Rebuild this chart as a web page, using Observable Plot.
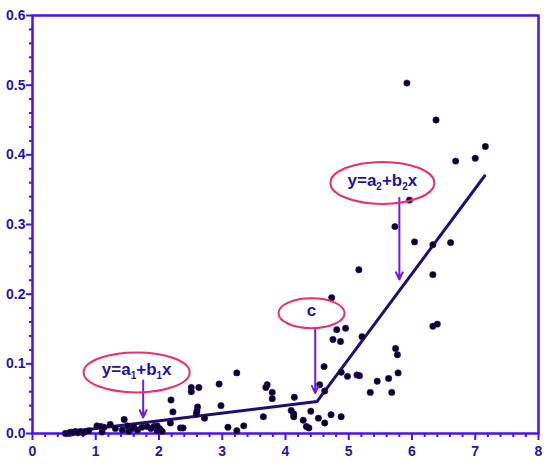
<!DOCTYPE html>
<html>
<head>
<meta charset="utf-8">
<script src="https://cdn.jsdelivr.net/npm/d3@7"></script>
<script src="https://cdn.jsdelivr.net/npm/@observablehq/plot@0.6"></script>
<style>
  html, body { margin: 0; padding: 0; background: #fff; }
</style>
</head>
<body>
<div id="chart"></div>
<script>
// Scatter observations (x, y)
const pointX = [
  0.52,0.56,0.60,0.64,0.68,0.72,0.76,0.80,0.84,0.89,1.02,1.08,1.10,1.13,1.23,1.31,1.42,1.45,1.50,1.52,
  1.58,1.60,1.66,1.73,1.81,1.87,1.92,1.97,1.97,2.01,2.05,
  2.18,2.19,2.22,2.34,2.38,2.51,2.51,2.63,2.61,2.60,2.59,2.72,2.95,2.98,3.09,3.23,3.23,3.34,3.65,
  3.71,3.69,3.79,3.79,
  4.09,4.13,4.13,4.14,4.28,4.33,4.37,4.40,4.52,4.54,4.61,4.62,4.62,4.72,4.73,4.75,4.81,4.87,4.88,4.88,
  4.95,4.98,5.13,5.17,5.16,5.21,5.34,5.45,5.63,5.68,5.73,5.74,5.77,5.78,5.92,5.96,6.04,6.33,6.33,6.33,
  6.38,6.40,6.61,6.69,7.00,7.16
];
const pointY = [
  0.000,0.000,0.002,0.001,0.003,0.001,0.003,0.001,0.003,0.004,0.011,0.010,0.002,0.009,0.013,0.007,0.005,0.020,0.011,0.003,
  0.007,0.010,0.005,0.009,0.010,0.007,0.010,0.004,0.011,0.007,0.003,
  0.015,0.048,0.031,0.008,0.008,0.066,0.060,0.066,0.038,0.032,0.028,0.022,0.071,0.040,0.009,0.087,0.004,0.011,0.024,
  0.070,0.066,0.059,0.050,
  0.033,0.028,0.024,0.052,0.019,0.010,0.008,0.032,0.022,0.070,0.096,0.061,0.015,0.027,0.195,0.135,0.149,0.132,0.088,0.024,
  0.151,0.082,0.084,0.083,0.235,0.139,0.059,0.075,0.079,0.059,0.297,0.122,0.113,0.087,0.503,0.335,0.275,0.271,0.228,0.154,
  0.450,0.157,0.274,0.391,0.395,0.412
];

// Piecewise (segmented) regression line: start, breakpoint c, end
const fitX = [0.55, 4.50, 7.15];
const fitY = [0.002, 0.046, 0.370];

// Annotations
const annLabel = ["y=a|1|+b|1|x", "c", "y=a|2|+b|2|x"];
const annX = [1.655, 4.42, 5.54];
const annY = [0.087, 0.172, 0.359];
const arrowX = [1.75, 4.47, 5.80];
const arrowY1 = [0.076, 0.150, 0.338];
const arrowY2 = [0.023, 0.058, 0.221];

// Ticks
const xMajor = [0,1,2,3,4,5,6,7,8];
const xMinor = d3.range(0, 40).map(i => i / 5).filter(v => Math.abs(v - Math.round(v)) > 1e-9);
const yMajor = [0,0.1,0.2,0.3,0.4,0.5,0.6];
const yMinor = d3.range(0, 30).map(i => i / 50).filter(v => Math.abs(v * 10 - Math.round(v * 10)) > 1e-9);

const points = pointX.map((x, i) => ({x, y: pointY[i]}));
const fit = fitX.map((x, i) => ({x, y: fitY[i]}));
const anns = annLabel.map((label, i) => ({label, x: annX[i], y: annY[i]}));
const arrows = arrowX.map((x, i) => ({x, y1: arrowY1[i], y2: arrowY2[i]}));

const axisColor = "#4a12ee";
const labelColor = "#2a12a8";
const ellipseColor = "#e8306f";
const textColor = "#1c14a0";
const arrowColor = "#6c1de0";
const ellipseSize = [[53, 20], [33, 15], [52, 21]];

function annotationMark(index, scales) {
  const sx = scales.x, sy = scales.y;
  const g = d3.create("svg:g");
  anns.forEach((d, i) => {
    const cx = sx(d.x), cy = sy(d.y);
    g.append("ellipse")
      .attr("cx", cx).attr("cy", cy)
      .attr("rx", ellipseSize[i][0]).attr("ry", ellipseSize[i][1])
      .attr("fill", "none").attr("stroke", ellipseColor).attr("stroke-width", 2);
    const t = g.append("text")
      .attr("x", cx).attr("y", cy - 1)
      .attr("text-anchor", "middle").attr("dominant-baseline", "middle")
      .attr("fill", textColor).attr("font-family", "Liberation Sans, Arial, sans-serif")
      .attr("font-weight", "bold").attr("font-size", 17);
    d.label.split("|").forEach((part, k) => {
      const sub = k % 2 === 1;
      const ts = t.append("tspan").text(part);
      if (sub) ts.attr("font-size", 10).attr("dy", 5);
      else if (k > 0) ts.attr("dy", -5);
    });
  });
  return g.node();
}

const chart = Plot.plot({
  width: 550,
  height: 471,
  marginLeft: 32,
  marginRight: 12,
  marginTop: 15,
  marginBottom: 38,
  style: {fontFamily: "Liberation Sans, Arial, sans-serif", fontSize: "14px", fontWeight: "bold", background: "#fff"},
  x: {domain: [0, 8]},
  y: {domain: [0, 0.6]},
  marks: [
    Plot.frame({stroke: axisColor, strokeWidth: 2.5}),
    Plot.axisX({ticks: xMinor, tickSize: 4, tickFormat: () => "", stroke: axisColor, strokeWidth: 2, label: null}),
    Plot.axisX({ticks: xMajor, tickSize: 7, tickPadding: 6, tickFormat: d => String(d), stroke: axisColor, strokeWidth: 2, fill: labelColor, label: null}),
    Plot.axisY({ticks: yMinor, tickSize: 3, tickFormat: () => "", stroke: axisColor, strokeWidth: 2, label: null}),
    Plot.axisY({ticks: yMajor, tickSize: 6, tickPadding: 1, tickFormat: d => d.toFixed(1), stroke: axisColor, strokeWidth: 2, fill: labelColor, label: null}),
    Plot.line(fit, {x: "x", y: "y", stroke: "#1e0f70", strokeWidth: 3}),
    Plot.dot(points, {x: "x", y: "y", r: 3.2, fill: "#06001c", stroke: "#3a10a0", strokeWidth: 0.6}),
    Plot.arrow(arrows, {x: "x", y1: "y1", y2: "y2", stroke: arrowColor, strokeWidth: 2, headLength: 6, headAngle: 50}),
    annotationMark
  ]
});
document.getElementById("chart").appendChild(chart);
</script>
</body>
</html>
